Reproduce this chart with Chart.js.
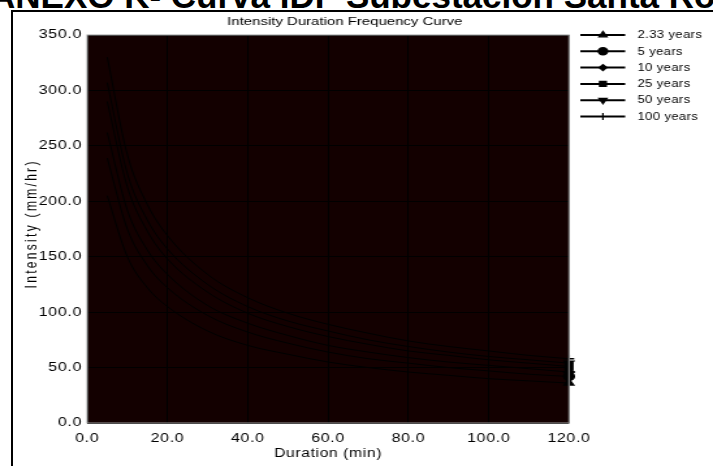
<!DOCTYPE html>
<html>
<head>
<meta charset="utf-8">
<script src="https://cdn.jsdelivr.net/npm/chart.js@4"></script>
<style>
  html, body { margin: 0; padding: 0; background: #fff; overflow: hidden; }
  body { width: 713px; height: 466px; position: relative; }
  #heading { position: absolute; left: 0; top: 0; }
  #frame {
    position: absolute; left: 11px; top: 10px; width: 800px; height: 600px;
    border-top: 2px solid #000; border-left: 2px solid #000;
  }
  #wrap {
    position: absolute; left: 0; top: 0; width: 548px; height: 466px;
    transform: scaleX(1.3011); transform-origin: 0 0;
  }
</style>
</head>
<body>
<svg id="heading" width="713" height="12">
  <text x="-10" y="7.5" font-family="Liberation Sans, Arial, sans-serif" font-weight="bold" font-size="35" fill="#000">ANEXO K- Curva IDF Subestación Santa Rosa</text>
</svg>
<div id="frame"></div>
<div id="wrap"><canvas id="idfChart" width="548" height="466"></canvas></div>
<script>
// durations in minutes
const durations = [5, 10, 15, 20, 30, 40, 50, 60, 70, 80, 90, 100, 110, 120];
const returnPeriods = ['2.33 years', '5 years', '10 years', '25 years', '50 years', '100 years'];

// intensity (mm/hr) per return period
const tr2_33 = [205, 150, 122, 105, 83, 70, 62, 55, 50, 46, 43, 40, 38, 36];
const tr5 = [239, 175, 142, 122, 97, 82, 72, 64, 58, 54, 50, 47, 44, 42];
const tr10 = [262, 192, 156, 134, 106, 90, 79, 70, 64, 59, 55, 52, 49, 46];
const tr25 = [290, 213, 173, 148, 118, 99, 87, 78, 71, 65, 61, 57, 54, 51];
const tr50 = [307, 225, 183, 157, 125, 105, 92, 83, 75, 69, 64, 60, 57, 54];
const tr100 = [330, 242, 197, 169, 134, 113, 99, 89, 81, 74, 69, 65, 61, 58];

const yTicks = [0, 50, 100, 150, 200, 250, 300, 350];
const xTicks = [0, 20, 40, 60, 80, 100, 120];

const series = [tr2_33, tr5, tr10, tr25, tr50, tr100];
const markers = [
  { style: 'triangle', rot: 0 },
  { style: 'circle', rot: 0 },
  { style: 'rectRot', rot: 0 },
  { style: 'rect', rot: 0 },
  { style: 'triangle', rot: 180 },
  { style: 'cross', rot: 0 }
];

const datasets = series.map((vals, i) => ({
  label: returnPeriods[i],
  data: durations.map((d, k) => ({ x: d, y: vals[k] })),
  borderColor: '#000',
  backgroundColor: '#000',
  borderWidth: 1,
  cubicInterpolationMode: 'monotone',
  pointStyle: markers[i].style,
  pointRotation: markers[i].rot,
  pointRadius: ctx => ctx.dataIndex === durations.length - 1 ? 4 : 0,
  pointHoverRadius: 0,
  pointBorderColor: '#000',
  pointBackgroundColor: '#000',
  pointBorderWidth: 1.5,
  clip: false
}));

const fontFamily = '"Liberation Sans", Arial, sans-serif';

const plotStyle = {
  id: 'plotStyle',
  beforeLayout(chart) {
    chart.ctx.letterSpacing = '0.5px';
  },
  beforeDraw(chart) {
    const { ctx, chartArea: a } = chart;
    ctx.letterSpacing = '0.5px';
    ctx.save();
    ctx.fillStyle = '#130000';
    ctx.fillRect(a.left, a.top, a.right - a.left, a.bottom - a.top);
    ctx.restore();
  },
  afterDraw(chart) {
    const { ctx, chartArea: a } = chart;
    ctx.save();
    // plot outline
    ctx.strokeStyle = '#9a9a9a';
    ctx.lineWidth = 1;
    ctx.strokeRect(a.left, a.top, a.right - a.left, a.bottom - a.top);

    // chart title
    ctx.fillStyle = '#000';
    ctx.letterSpacing = '0px';
    ctx.font = '11.5px ' + fontFamily;
    ctx.textAlign = 'center';
    ctx.textBaseline = 'middle';
    ctx.fillText('Intensity Duration Frequency Curve', 265, 22);

    // y axis title
    ctx.save();
    ctx.translate(24.8, 225);
    ctx.rotate(-Math.PI / 2);
    ctx.letterSpacing = '2.3px';
    ctx.font = '12px ' + fontFamily;
    ctx.fillText('Intensity (mm/hr)', 1.15, 0);
    ctx.restore();

    // legend
    ctx.letterSpacing = '0.3px';
    ctx.font = '10px ' + fontFamily;
    ctx.textAlign = 'left';
    chart.data.datasets.forEach((ds, i) => {
      const y = 35 + i * 16.3;
      ctx.strokeStyle = '#000';
      ctx.lineWidth = 2;
      ctx.beginPath();
      ctx.moveTo(446, y);
      ctx.lineTo(480.5, y);
      ctx.stroke();
      ctx.fillStyle = '#000';
      ctx.lineWidth = 1.2;
      Chart.helpers.drawPoint(ctx, {
        pointStyle: ds.pointStyle,
        rotation: ds.pointRotation,
        radius: ds.pointStyle === 'rectRot' ? 3 : 3.6,
        borderWidth: 1.2
      }, 463.4, y);
      ctx.fillStyle = '#000';
      ctx.fillText(ds.label, 490, y + 0.5);
    });
    ctx.restore();
  }
};

new Chart(document.getElementById('idfChart'), {
  type: 'line',
  data: { datasets: datasets },
  options: {
    responsive: false,
    animation: false,
    events: [],
    layout: { padding: { left: 10, right: 110.7, top: 35, bottom: 2 } },
    plugins: {
      legend: { display: false },
      title: { display: false },
      tooltip: { enabled: false }
    },
    scales: {
      x: {
        type: 'linear',
        min: 0,
        max: 120,
        afterFit(scale) { scale.height = 41; },
        afterBuildTicks(scale) { scale.ticks = xTicks.map(v => ({ value: v })); },
        grid: { color: '#000', lineWidth: 1, drawTicks: false },
        border: { display: false },
        ticks: {
          color: '#000',
          font: { family: fontFamily, size: 12.3 },
          padding: 8,
          maxRotation: 0,
          callback: v => v.toFixed(1)
        },
        title: {
          display: true,
          text: 'Duration (min)',
          color: '#000',
          font: { family: fontFamily, size: 12 },
          padding: { top: 0, bottom: 3 }
        }
      },
      y: {
        type: 'linear',
        min: 0,
        max: 350,
        afterFit(scale) { scale.width = 57; },
        afterBuildTicks(scale) { scale.ticks = yTicks.map(v => ({ value: v })); },
        grid: { color: '#000', lineWidth: 1, drawTicks: false },
        border: { display: false },
        ticks: {
          color: '#000',
          font: { family: fontFamily, size: 12.3 },
          padding: 4,
          callback: v => v.toFixed(1)
        },
        title: { display: false }
      }
    }
  },
  plugins: [plotStyle]
});
</script>
</body>
</html>
